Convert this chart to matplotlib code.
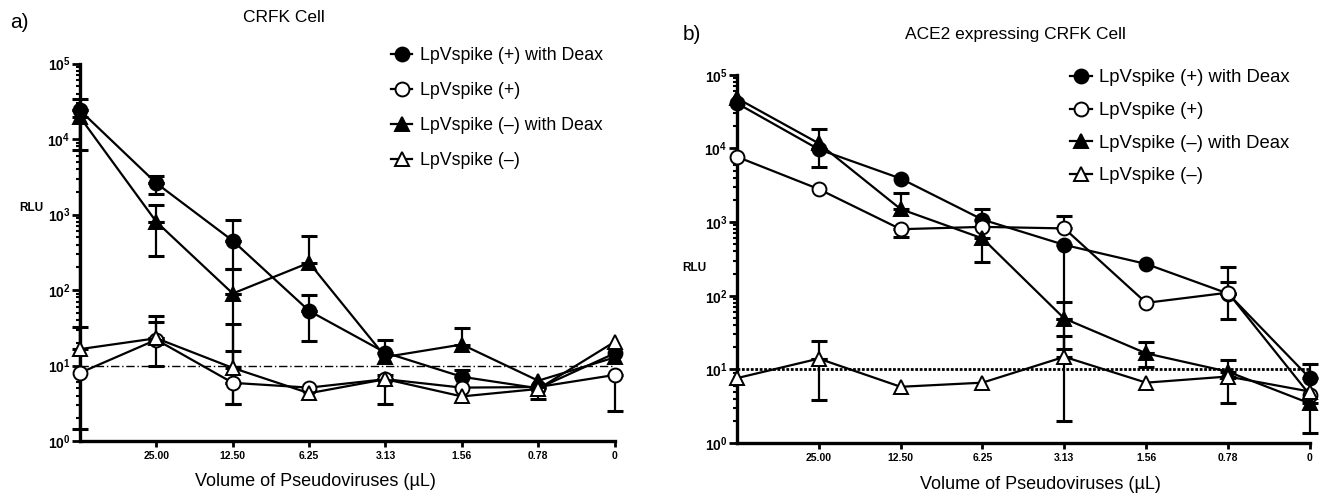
import numpy as np
import matplotlib
matplotlib.use('Agg')
import matplotlib.pyplot as plt

nan = np.nan

# x categories (volume of pseudoviruses, first dilution unlabeled)
volumes = ['', '25.00', '12.50', '6.25', '3.13', '1.56', '0.78', '0']
labels = ['LpVspike (+) with Deax', 'LpVspike (+)',
          'LpVspike (\u2013) with Deax', 'LpVspike (\u2013)']
cutoff = 10

# panel a: CRFK cell (value, lower error end, upper error end)
a_plus_deax = [2.4e4, 2.6e3, 450, 53, 14.8, 7.1, 5.0, 14.5]
a_plus_deax_lo = [7.1e3, 1.9e3, 190, 21, nan, nan, 3.6, nan]
a_plus_deax_hi = [3.4e4, 3.2e3, 850, 86, 22, 8.7, nan, nan]
a_plus = [8.0, 22, 5.9, 5.1, 6.6, 5.1, 5.2, 7.5]
a_plus_lo = [nan, nan, 3.1, nan, 3.1, nan, nan, 2.5]
a_plus_hi = [nan, 38, 15.7, nan, nan, nan, nan, nan]
a_minus_deax = [1.95e4, 800, 90, 230, 13, 19, 6.3, 12.8]
a_minus_deax_lo = [1.44, 285, 3.1, nan, nan, nan, nan, nan]
a_minus_deax_hi = [nan, 1340, 190, 520, nan, 31.6, nan, nan]
a_minus = [16.5, 23, 9.3, 4.3, 6.6, 3.9, 4.9, 20.6]
a_minus_lo = [nan, 10, nan, nan, nan, nan, nan, nan]
a_minus_hi = [32, 45, 36, nan, 7.5, nan, nan, nan]

# panel b: ACE2 expressing CRFK cell
b_plus_deax = [4.1e4, 9.7e3, 3.9e3, 1.08e3, 490, 270, 107, 7.6]
b_plus_deax_lo = [nan, 5.6e3, nan, nan, 2.0, nan, 49, nan]
b_plus_deax_hi = [nan, 1.86e4, nan, 1.5e3, nan, nan, 245, 12]
b_plus = [7.7e3, 2.8e3, 800, 860, 820, 80, 110, 4.5]
b_plus_lo = [nan, nan, 620, nan, nan, nan, nan, nan]
b_plus_hi = [nan, nan, nan, nan, 1.2e3, nan, 155, nan]
b_minus_deax = [4.8e4, 1.17e4, 1.5e3, 600, 49, 16.5, 9.3, 3.45]
b_minus_deax_lo = [nan, nan, nan, 290, 19, 10.8, nan, 1.35]
b_minus_deax_hi = [nan, nan, 2.5e3, nan, 83, 23.6, 13.6, nan]
b_minus = [7.6, 14, 5.8, 6.6, 14.8, 6.6, 8.0, 5.0]
b_minus_lo = [nan, 3.8, nan, nan, nan, nan, 3.5, nan]
b_minus_hi = [nan, 24.5, nan, nan, 28, nan, nan, nan]

plt.rcParams['font.family'] = ['Liberation Sans', 'DejaVu Sans']
plt.rcParams['mathtext.fontset'] = 'custom'
plt.rcParams['mathtext.rm'] = 'Liberation Sans:bold'
plt.rcParams['mathtext.bf'] = 'Liberation Sans:bold'

styles = [('o', 'black'), ('o', 'white'), ('^', 'black'), ('^', 'white')]


def draw_panel(ax, series, cut_style, cut_lw):
    x = np.arange(len(volumes))
    for (vals, lo, hi), (mk, fc), lab in zip(series, styles, labels):
        vals = np.array(vals, dtype=float)
        lo = np.array(lo, dtype=float)
        hi = np.array(hi, dtype=float)
        for ends, down in ((lo, True), (hi, False)):
            m = ~np.isnan(ends)
            if not m.any():
                continue
            d = np.abs(vals[m] - ends[m])
            z = np.zeros_like(d)
            err = [d, z] if down else [z, d]
            ax.errorbar(x[m], vals[m], yerr=err, fmt='none', ecolor='black',
                        elinewidth=1.6, capsize=5.5, capthick=2.2, clip_on=False, zorder=2)
        ax.plot(x, vals, '-', color='black', lw=1.6, marker=mk, ms=10,
                mfc=fc, mec='black', mew=1.4, clip_on=False, zorder=3, label=lab)
    ax.axhline(cutoff, color='black', lw=cut_lw, ls=cut_style, zorder=1)
    ax.set_yscale('log')
    ax.set_ylim(1, 1e5)
    ax.set_xlim(0, len(volumes) - 1)
    ax.set_xticks(x[1:])
    ax.set_xticklabels(volumes[1:], fontsize=7.5, fontweight='bold')
    ax.set_yticks([1, 10, 100, 1e3, 1e4, 1e5])
    ax.set_yticklabels([r'$\mathbf{10^{%d}}$' % k for k in range(6)], fontsize=10)
    ax.spines['top'].set_visible(False)
    ax.spines['right'].set_visible(False)
    ax.spines['left'].set_linewidth(2.4)
    ax.spines['bottom'].set_linewidth(2.4)
    ax.tick_params(axis='y', which='major', length=6, width=2, pad=1)
    ax.tick_params(axis='y', which='minor', length=3, width=1.5)
    ax.tick_params(axis='x', which='major', length=4, width=2, pad=3)
    ax.set_xlabel('Volume of Pseudoviruses (\u00b5L)', fontsize=13)


fig = plt.figure(figsize=(13.2, 4.95), dpi=100)
ax1 = fig.add_axes([0.0606, 0.109, 0.405, 0.7626])
ax2 = fig.add_axes([0.5583, 0.105, 0.434, 0.744])

draw_panel(ax1, [(a_plus_deax, a_plus_deax_lo, a_plus_deax_hi),
                 (a_plus, a_plus_lo, a_plus_hi),
                 (a_minus_deax, a_minus_deax_lo, a_minus_deax_hi),
                 (a_minus, a_minus_lo, a_minus_hi)], (0, (6, 2, 1, 2)), 1.0)
draw_panel(ax2, [(b_plus_deax, b_plus_deax_lo, b_plus_deax_hi),
                 (b_plus, b_plus_lo, b_plus_hi),
                 (b_minus_deax, b_minus_deax_lo, b_minus_deax_hi),
                 (b_minus, b_minus_lo, b_minus_hi)], (0, (1, 0.6)), 2.0)

ax1.xaxis.set_label_coords(0.44, -0.085)
ax2.xaxis.set_label_coords(0.53, -0.09)

ax1.legend(loc='upper left', bbox_to_anchor=(0.552, 1.085), frameon=False,
           fontsize=12.8, handlelength=1.2, handletextpad=0.4, labelspacing=1.0)
ax2.legend(loc='upper left', bbox_to_anchor=(0.552, 1.06), frameon=False,
           fontsize=13.3, handlelength=1.2, handletextpad=0.4, labelspacing=0.85)

fig.text(0.215, 0.965, 'CRFK Cell', ha='center', va='center', fontsize=12.5)
fig.text(0.769, 0.93, 'ACE2 expressing CRFK Cell', ha='center', va='center', fontsize=12.5)
fig.text(0.008, 0.955, 'a)', ha='left', va='center', fontsize=15)
fig.text(0.517, 0.93, 'b)', ha='left', va='center', fontsize=15)
fig.text(0.024, 0.58, 'RLU', ha='center', va='center', fontsize=8.5, fontweight='bold')
fig.text(0.526, 0.458, 'RLU', ha='center', va='center', fontsize=8.5, fontweight='bold')

fig.savefig('out.png', dpi=100)
